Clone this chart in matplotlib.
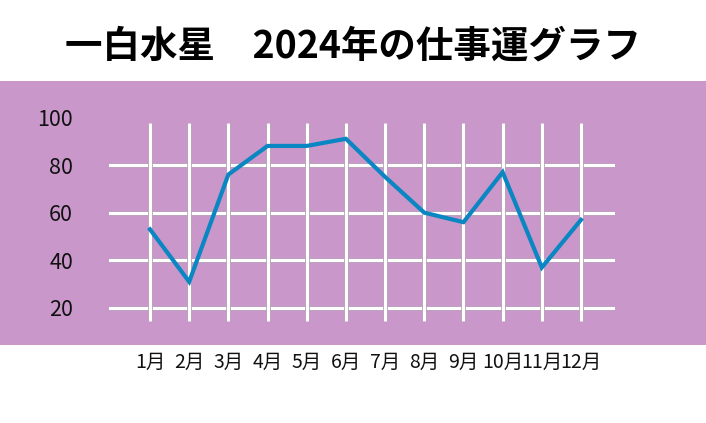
import matplotlib
matplotlib.use("Agg")
import matplotlib.pyplot as plt
import matplotlib.patheffects as pe
from matplotlib.patches import Rectangle

plt.rcParams['font.family'] = ['Noto Sans CJK JP', 'DejaVu Sans']

title = "一白水星　2024年の仕事運グラフ"
months = ["1月", "2月", "3月", "4月", "5月", "6月", "7月", "8月", "9月", "10月", "11月", "12月"]
values = [53, 31, 76, 88, 88, 91, 75, 60, 56, 77, 37, 57]
yticks = [20, 40, 60, 80, 100]
hgrid = [20, 40, 60, 80]

W, H = 706, 423
fig = plt.figure(figsize=(W / 100, H / 100), dpi=100)
fig.patch.set_facecolor("white")

purple = "#C997C9"
band = Rectangle((0, 1 - 345 / H), 1, (345 - 81) / H,
                 transform=fig.transFigure, facecolor=purple,
                 edgecolor="none", zorder=-10)
fig.patches.append(band)

fig.text(0.5, 1 - 46 / H, title, ha="center", va="center",
         fontsize=27, fontweight="bold", color="black")

ax_l, ax_r, ax_t, ax_b = 109, 615, 81, 345
ax = fig.add_axes([ax_l / W, 1 - ax_b / H, (ax_r - ax_l) / W, (ax_b - ax_t) / H])
ax.set_zorder(5)
ax.set_facecolor("none")
ax.patch.set_alpha(0)
for s in ax.spines.values():
    s.set_visible(False)

px_x = 39.18
x = list(range(len(months)))
ax.set_xlim((ax_l - 150) / px_x, 11 + (ax_r - 581) / px_x)
px_y = (308 - 165) / 60.0
ax.set_ylim(20 - (ax_b - 308) / px_y, 80 + (165 - ax_t) / px_y)

grid_fx = [pe.Stroke(linewidth=3.4, foreground="#B49AB4"), pe.Normal()]
for v in hgrid:
    ax.axhline(v, color="white", lw=2.3, zorder=1, path_effects=grid_fx)
ax.vlines(x, 20 - (321 - 308) / px_y, 80 + (165 - 123) / px_y,
          color="white", lw=2.3, zorder=1, path_effects=grid_fx)

ax.plot(x, values, color="#0A86C2", lw=3.0, zorder=3, solid_joinstyle="miter")

ax.set_yticks(yticks)
ax.set_yticklabels([str(v) for v in yticks], fontsize=15.5, color="#111111")
ax.tick_params(axis="y", length=0, pad=26)
ax.set_xticks(x)
ax.set_xticklabels(months, fontsize=14, color="#111111")
ax.tick_params(axis="x", length=0, pad=5)

fig.savefig("out.png", dpi=100)
